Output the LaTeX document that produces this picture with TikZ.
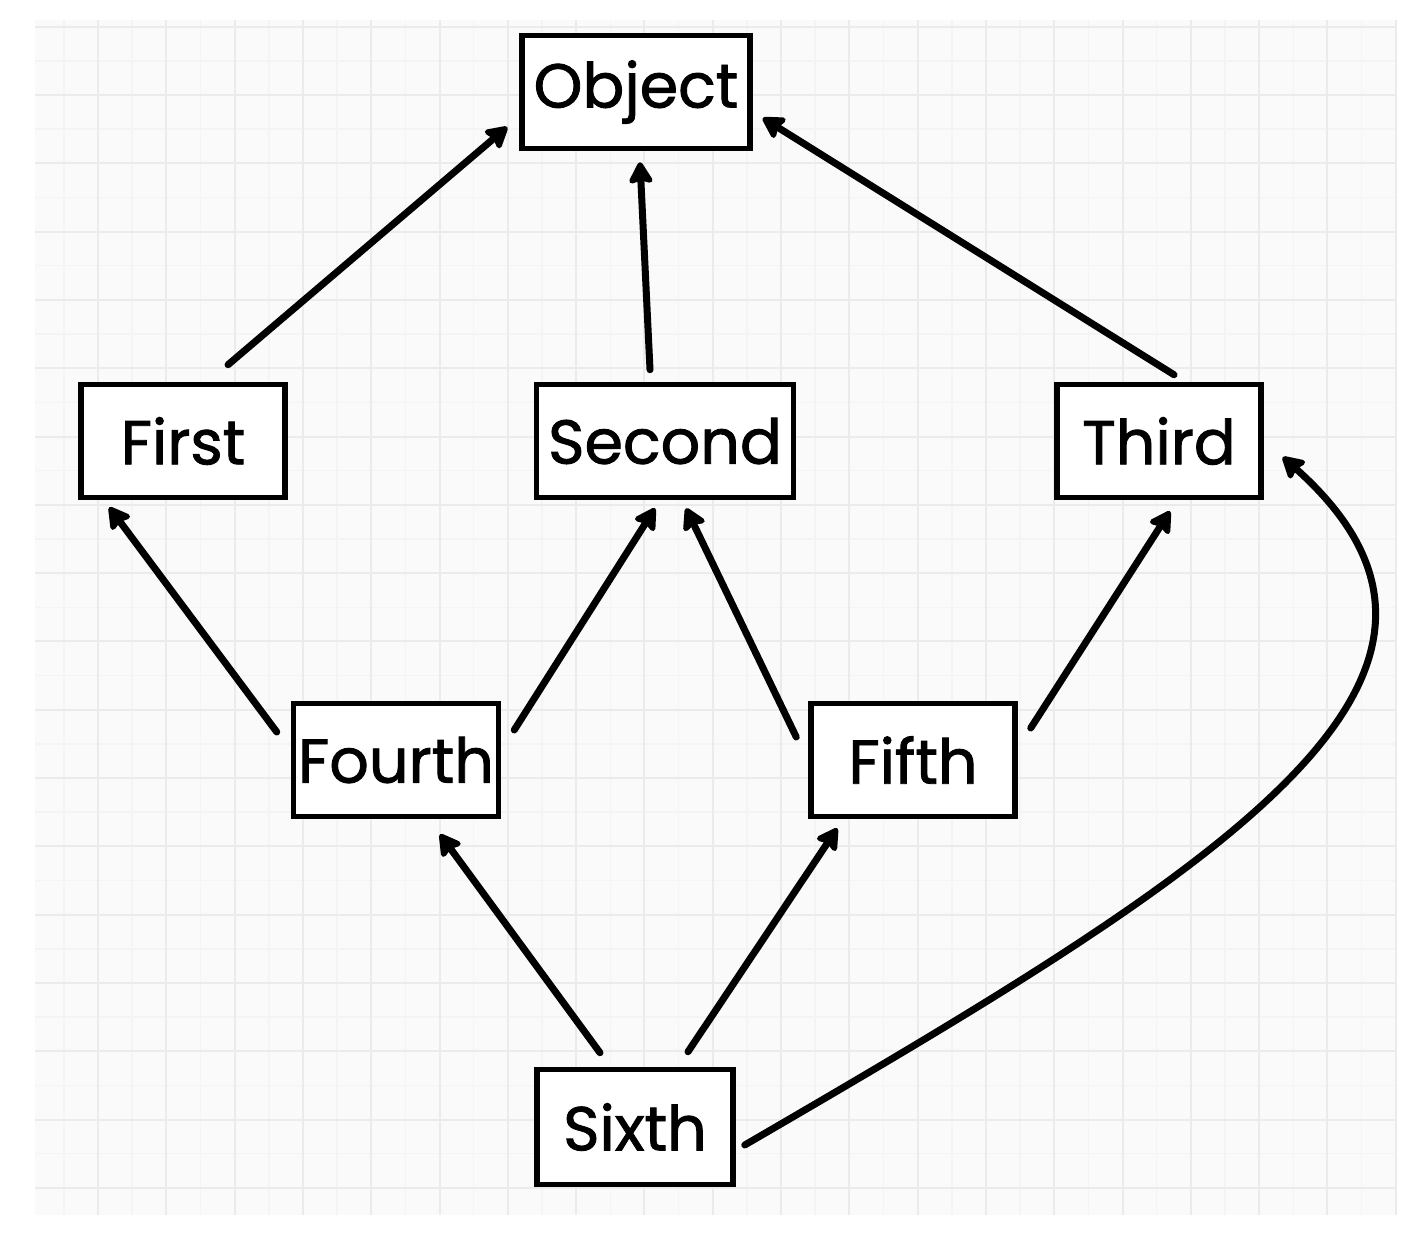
\documentclass[tikz,border=0pt]{standalone}
\usepackage{fontspec}
\setmainfont{Poppins}[FakeBold=1.4]
\usetikzlibrary{arrows.meta}
\definecolor{paper}{HTML}{FAFAFA}
\definecolor{minorgrid}{HTML}{F4F4F4}
\definecolor{majorgrid}{HTML}{EBEBEB}
\begin{document}
\begin{tikzpicture}[x=1pt,y=-1pt,
  every node/.style={draw,line width=5.5pt,fill=white,inner sep=0pt,minimum height=113pt,
    font=\fontsize{62}{70}\selectfont},
  inherits/.style={line width=7pt,line cap=round,-{Stealth[length=25pt,width=28pt,inset=4pt,round]}},
  minorline/.style={minorgrid,line width=1.5pt},
  majorline/.style={majorgrid,line width=2pt}]

    \useasboundingbox (0,0) rectangle (1424,1238);
    \begin{scope}
        \clip (35,20) rectangle (1397,1215);
        \fill[paper] (35,20) rectangle (1397,1215);
        \foreach \k in {0,...,40} {
            \draw[minorline] ({29.7+34.15*\k},20) -- ++(0,1195);
        }
        \foreach \k in {0,...,34} {
            \draw[minorline] (35,{26.7+34.15*\k}) -- ++(1362,0);
        }
        \foreach \k in {0,...,20} {
            \draw[majorline] ({29.7+68.3*\k},20) -- ++(0,1195);
        }
        \foreach \k in {0,...,17} {
            \draw[majorline] (35,{26.7+68.3*\k}) -- ++(1362,0);
        }
    \end{scope}

    \node[minimum width=228pt] (object) at (636,92) {Object};
    \node[minimum width=204pt] (first) at (183,441) {First};
    \node[minimum width=257pt] (second) at (665,441) {Second};
    \node[minimum width=204pt] (third) at (1159,441) {Third};
    \node[minimum width=205pt] (fourth) at (396,760) {Fourth};
    \node[minimum width=204pt] (fifth) at (913,760) {Fifth};
    \node[minimum width=196pt,minimum height=115pt] (sixth) at (635,1127) {Sixth};

    \draw[inherits] ([shift={(45,-17)}]first.north) -- ([shift={(-12,35)}]object.west);
    \draw[inherits] ([shift={(-15,-12)}]second.north) -- ([shift={(4,11)}]object.south);
    \draw[inherits] ([shift={(15,-7)}]third.north) -- ([shift={(10,26)}]object.east);
    \draw[inherits] ([shift={(-14,-28)}]fourth.west) -- ([shift={(31,7)}]first.south west);
    \draw[inherits] ([shift={(13,-30)}]fourth.east) -- ([shift={(-10,8)}]second.south);
    \draw[inherits] ([shift={(-12,-23)}]fifth.west) -- ([shift={(21,8)}]second.south);
    \draw[inherits] ([shift={(13,-32)}]fifth.east) -- ([shift={(11,11)}]third.south);
    \draw[inherits] ([shift={(-35,-14)}]sixth.north) -- ([shift={(44,15)}]fourth.south);
    \draw[inherits] ([shift={(53,-15)}]sixth.north) -- ([shift={(29,9)}]fifth.south west);
    \draw[inherits] ([shift={(9,18)}]sixth.east) .. controls (1218,870) and (1531,678) .. ([shift={(19,16)}]third.east);
\end{tikzpicture}
\end{document}
